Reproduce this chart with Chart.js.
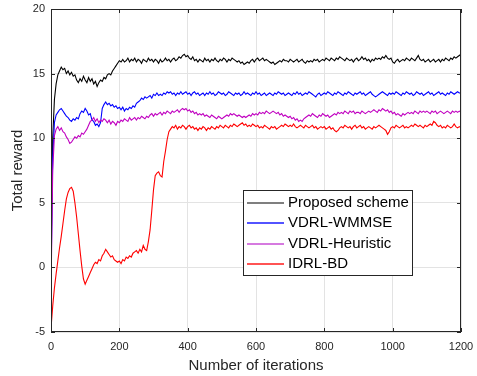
<!DOCTYPE html>
<html>
<head>
<meta charset="utf-8">
<script src="https://cdn.jsdelivr.net/npm/chart.js@4.4.0/dist/chart.umd.min.js"></script>
<style>
  html, body { margin: 0; padding: 0; background: #fff; }
  #wrap { width: 477px; height: 376px; }
</style>
</head>
<body>
<div id="wrap"><canvas id="rewardChart" width="477" height="376"></canvas></div>
<script>
// one value every 5 iterations, 0..1200 (10 values per row = 50 iterations)
const iterStep = 5;
const xTicks = [0, 200, 400, 600, 800, 1000, 1200];
const yTicks = [-5, 0, 5, 10, 15, 20];
const seriesNames = ['Proposed scheme', 'VDRL-WMMSE', 'VDRL-Heuristic', 'IDRL-BD'];
const seriesColors = ['#000000', '#0000ff', '#c000c0', '#ff0000'];
const legendColors = ['#555555', '#1a1aff', '#d67ae0', '#ff1a1a'];

const proposed = [
  0.5, 10.0, 13.0, 14.2, 14.9, 15.2, 15.5, 15.3, 15.4, 15.0,
  15.2, 14.9, 15.1, 14.8, 14.9, 14.5, 14.3, 14.6, 14.4, 14.8,
  14.5, 14.3, 14.7, 14.4, 14.6, 14.2, 14.4, 14.0, 14.3, 14.5,
  14.4, 14.7, 14.6, 14.9, 15.0, 14.9, 15.2, 15.4, 15.6, 15.8,
  16.0, 15.9, 16.1, 15.9, 16.0, 16.2, 15.9, 16.1, 16.0, 16.2,
  15.9, 16.1, 16.0, 15.8, 16.1, 16.0, 15.9, 16.2, 16.0, 16.1,
  15.9, 16.1, 16.0, 15.8, 16.1, 15.9, 16.0, 16.2, 16.0, 16.1,
  15.9, 16.1, 16.2, 16.0, 16.1, 16.3, 16.2, 16.4, 16.5, 16.3,
  16.4, 16.2, 16.1, 16.3, 16.0, 16.1, 15.9, 16.1, 16.0, 15.9,
  16.2, 16.0, 16.1, 15.9, 16.1, 16.0, 16.2, 16.0, 15.9, 16.1,
  16.0, 16.2, 16.1, 15.9, 16.1, 16.0, 16.2, 16.1, 16.0, 15.9,
  16.0, 15.8, 15.9, 15.7, 15.8, 15.9, 15.8, 16.0, 16.1, 15.9,
  16.1, 16.2, 16.0, 16.1, 16.2, 16.0, 16.1, 16.0, 15.9, 15.8,
  15.9, 15.7, 15.8, 15.9, 16.0, 15.9, 16.1, 16.0, 16.0, 15.9,
  16.1, 16.0, 15.9, 16.0, 16.1, 15.9, 16.0, 16.1, 15.9, 15.8,
  16.0, 15.9, 16.0, 15.9, 16.1, 16.0, 16.1, 15.9, 16.0, 16.1,
  16.0, 16.2, 16.1, 16.0, 16.2, 16.1, 16.0, 16.2, 16.1, 16.3,
  16.2, 16.1, 16.0, 16.2, 16.1, 16.0, 16.1, 15.9, 16.1, 16.2,
  16.0, 16.1, 16.3, 16.1, 16.2, 16.0, 16.1, 15.9, 16.1, 16.0,
  16.2, 16.1, 16.2, 16.1, 16.3, 16.2, 16.4, 16.2, 16.1, 16.2,
  15.9, 15.8, 16.0, 16.1, 15.9, 16.0, 16.1, 16.0, 16.2, 16.1,
  16.0, 16.2, 16.1, 16.0, 16.2, 16.4, 16.1, 16.0, 16.1, 15.9,
  16.0, 16.1, 15.9, 16.0, 16.1, 15.9, 16.0, 16.1, 15.9, 16.1,
  16.0, 16.2, 16.1, 16.0, 16.2, 16.1, 16.3, 16.2, 16.3, 16.4,
  16.5
];

const wmmse = [
  -1.0, 8.5, 11.2, 11.8, 12.0, 12.2, 12.3, 12.1, 11.9, 11.7,
  11.6, 11.4, 11.3, 11.5, 11.4, 11.6, 11.5, 11.9, 12.1, 12.0,
  12.3, 12.1, 11.8, 11.9, 11.4, 11.3, 11.0, 11.1, 10.9, 11.2,
  12.3, 12.6, 12.8, 12.6, 12.7, 12.5, 12.6, 12.4, 12.5, 12.3,
  12.4, 12.2, 12.4, 12.1, 12.3, 12.2, 12.4, 12.3, 12.5, 12.4,
  12.7, 12.8, 12.9, 13.1, 13.0, 13.2, 13.1, 13.2, 13.3, 13.1,
  13.4, 13.3, 13.5, 13.3, 13.4, 13.3, 13.5, 13.4, 13.6, 13.5,
  13.6, 13.4, 13.5, 13.3, 13.5, 13.4, 13.6, 13.4, 13.5, 13.6,
  13.4, 13.5, 13.3, 13.5, 13.6, 13.4, 13.5, 13.3, 13.4, 13.5,
  13.3, 13.5, 13.4, 13.6, 13.4, 13.5, 13.3, 13.4, 13.6, 13.5,
  13.4, 13.5, 13.3, 13.4, 13.6, 13.5, 13.4, 13.3, 13.5, 13.4,
  13.5, 13.3, 13.4, 13.6, 13.4, 13.5, 13.4, 13.3, 13.5, 13.4,
  13.6, 13.4, 13.5, 13.3, 13.4, 13.5, 13.3, 13.4, 13.5, 13.4,
  13.3, 13.5, 13.4, 13.6, 13.5, 13.4, 13.5, 13.3, 13.4, 13.5,
  13.4, 13.3, 13.5, 13.4, 13.6, 13.4, 13.5, 13.3, 13.4, 13.5,
  13.4, 13.6, 13.5, 13.4, 13.3, 13.2, 13.4, 13.5, 13.3, 13.4,
  13.5, 13.4, 13.6, 13.5, 13.4, 13.3, 13.5, 13.4, 13.6, 13.5,
  13.4, 13.3, 13.5, 13.4, 13.6, 13.5, 13.4, 13.3, 13.5, 13.4,
  13.5, 13.6, 13.4, 13.5, 13.3, 13.4, 13.5, 13.6, 13.4, 13.3,
  13.2, 13.3, 13.4, 13.5, 13.6, 13.5, 13.4, 13.3, 13.5, 13.4,
  13.5, 13.4, 13.6, 13.5, 13.4, 13.3, 13.5, 13.4, 13.6, 13.5,
  13.4, 13.5, 13.3, 13.4, 13.6, 13.5, 13.4, 13.5, 13.3, 13.4,
  13.5, 13.6, 13.4, 13.5, 13.3, 13.4, 13.5, 13.6, 13.4, 13.5,
  13.4, 13.3, 13.5, 13.4, 13.6, 13.5, 13.4, 13.5, 13.6, 13.5,
  13.5
];

const heuristic = [
  -2.0, 7.5, 10.2, 10.7, 10.9, 10.6, 10.8, 10.5, 10.4, 10.1,
  9.9, 9.6, 9.7, 9.9, 10.1, 10.0, 10.2, 10.1, 10.4, 10.3,
  10.5, 10.7, 11.0, 11.3, 11.4, 11.6, 11.3, 11.5, 11.2, 11.4,
  11.3, 11.5, 11.4, 11.2, 11.4, 11.1, 11.3, 11.2, 11.0, 11.3,
  11.2, 11.4, 11.3, 11.5, 11.4, 11.3, 11.6, 11.4, 11.5, 11.6,
  11.4, 11.6, 11.5, 11.7, 11.6, 11.5, 11.7, 11.6, 11.8, 11.9,
  11.7, 11.9, 11.8, 11.9, 12.0, 11.8, 12.0, 11.9, 12.1, 12.0,
  11.9, 12.1, 12.0, 12.1, 12.2, 12.0, 12.2, 12.3, 12.2, 12.3,
  12.1, 12.2, 12.0, 12.1, 11.9, 12.0, 11.8, 11.9, 11.8, 11.9,
  11.7, 11.8, 11.7, 11.6, 11.8, 11.7, 11.6, 11.5, 11.7, 11.6,
  11.5, 11.6, 11.7, 11.8, 11.7, 11.9, 11.8, 11.9, 11.8, 11.7,
  11.8, 11.7, 11.6, 11.7, 11.6, 11.7, 11.8, 11.7, 11.9, 11.8,
  11.9, 11.8, 12.0, 11.9, 12.0, 11.9, 12.1, 12.0, 11.9, 12.0,
  12.1, 12.0, 11.9, 12.0, 11.8, 11.9, 11.7, 11.8, 11.7, 11.6,
  11.7, 11.5, 11.6, 11.4, 11.5, 11.3, 11.4, 11.3, 11.5, 11.6,
  11.7, 11.8, 11.7, 11.9, 11.8, 11.7, 11.6, 11.8, 11.7, 11.9,
  11.8, 11.7, 11.8, 11.6, 11.7, 11.8, 11.9, 11.8, 12.0, 11.9,
  12.0, 11.9, 12.1, 12.0, 11.9, 12.1, 12.0, 12.1, 11.9, 12.0,
  12.0, 11.9, 12.1, 12.0, 11.9, 12.0, 12.1, 12.0, 12.1, 12.2,
  12.1, 12.0, 12.2, 12.1, 12.3, 12.2, 12.1, 12.2, 12.0, 12.1,
  11.9, 12.0, 11.8, 11.9, 11.8, 11.7, 11.9, 11.8, 11.9, 12.0,
  11.9, 12.0, 11.9, 12.1, 12.0, 11.9, 12.1, 12.0, 12.1, 12.0,
  12.1, 12.0, 11.9, 12.1, 12.0, 12.1, 11.9, 12.0, 12.1, 12.0,
  11.9, 12.0, 12.1, 12.0, 11.9, 12.1, 12.0, 12.1, 12.0, 12.1,
  12.0
];

const idrlBd = [
  -4.7, -3.0, -1.6, -0.5, 0.5, 1.5, 2.4, 3.4, 4.4, 5.3,
  5.8, 6.1, 6.2, 5.9, 5.0, 3.9, 2.6, 1.3, 0.1, -0.9,
  -1.3, -1.0, -0.7, -0.4, -0.1, 0.2, 0.4, 0.3, 0.6, 0.5,
  0.9, 1.1, 1.4, 1.2, 1.0, 0.8, 0.9, 0.6, 0.5, 0.4,
  0.5, 0.3, 0.6, 0.5, 0.8, 0.7, 0.9, 0.8, 1.1, 1.2,
  1.3, 1.1, 1.4, 1.2, 1.7, 1.4, 1.3, 2.0, 2.9, 4.4,
  6.0, 7.1, 7.3, 7.4, 7.1, 7.0, 8.2, 9.0, 9.9, 10.5,
  10.7, 10.9, 10.8, 11.0, 10.7, 10.9, 10.8, 11.0, 10.9, 10.7,
  10.9, 11.0, 10.8, 10.9, 10.7, 10.8, 10.6, 10.8, 10.7, 10.9,
  10.8, 10.6, 10.8, 10.7, 10.9, 10.8, 10.7, 10.9, 10.8, 11.0,
  10.9, 10.8, 11.0, 10.9, 10.8, 11.0, 10.9, 11.1, 11.0, 10.9,
  11.0, 11.1, 11.2, 11.0, 11.1, 10.9, 11.0, 10.9, 11.1, 11.0,
  10.9, 11.0, 10.8, 10.9, 10.8, 11.0, 10.9, 10.8, 10.7, 10.9,
  10.8, 10.9, 10.7, 10.8, 10.9, 11.0, 10.9, 11.1, 11.0, 10.9,
  11.0, 10.9, 11.1, 10.9, 10.8, 10.9, 11.0, 10.9, 10.8, 11.0,
  10.9, 10.8, 10.9, 11.0, 10.8, 10.9, 10.7, 10.8, 10.9, 10.8,
  10.9, 10.7, 10.8, 10.9, 10.7, 10.8, 10.6, 10.5, 10.6, 10.8,
  10.9, 10.8, 11.0, 10.9, 10.8, 10.9, 10.7, 10.9, 11.0, 10.8,
  10.9, 11.0, 10.8, 10.9, 10.7, 10.8, 10.9, 10.8, 10.7, 10.9,
  10.8, 10.9, 11.0, 10.9, 10.8, 10.7, 10.6, 10.3, 10.5, 10.8,
  10.9, 10.8, 11.0, 10.9, 10.8, 10.9, 11.0, 10.8, 10.9, 10.8,
  10.9, 11.0, 10.9, 11.1, 11.0, 10.9, 11.0, 10.9, 10.8, 11.0,
  10.9, 11.0, 11.1, 11.0, 11.3, 11.2, 11.0, 10.9, 11.0, 10.8,
  10.9, 10.8, 11.0, 10.9, 10.8, 10.9, 11.1, 10.9, 10.8, 10.9,
  10.8
];

const allSeries = [proposed, wmmse, heuristic, idrlBd];
const axisColor = '#262626';
const fontFamily = '"Liberation Sans", Arial, Helvetica, sans-serif';

// matlab-like box with inward ticks on all four sides
const boxPlugin = {
  id: 'box',
  afterDatasetsDraw(chart) {
    const { ctx, chartArea: a, scales: { x, y } } = chart;
    ctx.save();
    ctx.strokeStyle = axisColor;
    ctx.lineWidth = 1;
    ctx.beginPath();
    xTicks.forEach(v => {
      const px = Math.round(x.getPixelForValue(v)) + 0.5;
      ctx.moveTo(px, a.bottom); ctx.lineTo(px, a.bottom - 4);
      ctx.moveTo(px, a.top); ctx.lineTo(px, a.top + 4);
    });
    yTicks.forEach(v => {
      const py = Math.round(y.getPixelForValue(v)) + 0.5;
      ctx.moveTo(a.left, py); ctx.lineTo(a.left + 4, py);
      ctx.moveTo(a.right, py); ctx.lineTo(a.right - 4, py);
    });
    ctx.stroke();
    ctx.strokeRect(Math.round(a.left) + 0.5, Math.round(a.top) + 0.5,
      Math.round(a.right - a.left) - 1, Math.round(a.bottom - a.top) - 1);
    ctx.restore();
  }
};

const legendPlugin = {
  id: 'boxLegend',
  afterDraw(chart) {
    const { ctx } = chart;
    const left = 243, top = 190, w = 169, h = 85;
    ctx.save();
    ctx.fillStyle = '#ffffff';
    ctx.fillRect(left, top, w, h);
    ctx.strokeStyle = axisColor;
    ctx.lineWidth = 1;
    ctx.strokeRect(left + 0.5, top + 0.5, w, h);
    ctx.font = '15px ' + fontFamily;
    ctx.textBaseline = 'middle';
    seriesNames.forEach((name, i) => {
      const yy = Math.round(top + 13 + i * 20.3);
      ctx.strokeStyle = legendColors[i];
      ctx.lineWidth = i === 2 ? 2 : 1.5;
      ctx.beginPath();
      ctx.moveTo(left + 4, yy);
      ctx.lineTo(left + 41, yy);
      ctx.stroke();
      ctx.fillStyle = '#000000';
      ctx.fillText(name, left + 45, yy);
    });
    ctx.restore();
  }
};

const chartCtx = document.getElementById('rewardChart').getContext('2d');
new Chart(chartCtx, {
  type: 'line',
  data: {
    datasets: allSeries.map((vals, i) => ({
      label: seriesNames[i],
      data: vals.map((v, k) => ({ x: k * iterStep, y: v })),
      borderColor: seriesColors[i],
      borderWidth: 1.1,
      pointRadius: 0,
      tension: 0,
      fill: false,
      order: allSeries.length - i
    }))
  },
  options: {
    responsive: false,
    animation: false,
    devicePixelRatio: 1,
    layout: { padding: { top: 9, right: 16, left: 0, bottom: 0 } },
    plugins: {
      legend: { display: false },
      tooltip: { enabled: false }
    },
    scales: {
      x: {
        type: 'linear',
        min: 0,
        max: 1200,
        afterBuildTicks: s => { s.ticks = xTicks.map(v => ({ value: v })); },
        afterFit: s => { s.height = 44; s.paddingRight = 0; s.paddingLeft = 0; },
        grid: { color: '#e3e3e3', drawTicks: false },
        border: { display: false },
        ticks: {
          color: axisColor, padding: 8, maxRotation: 0,
          font: { family: fontFamily, size: 11 },
          callback: v => String(v)
        },
        title: {
          display: true,
          text: 'Number of iterations',
          color: axisColor,
          padding: { top: 0, bottom: 1 },
          font: { family: fontFamily, size: 15 }
        }
      },
      y: {
        min: -5,
        max: 20,
        afterBuildTicks: s => { s.ticks = yTicks.map(v => ({ value: v })); },
        afterFit: s => { s.width = 51; s.paddingTop = 0; s.paddingBottom = 0; },
        grid: { color: '#e3e3e3', drawTicks: false },
        border: { display: false },
        ticks: {
          color: axisColor, padding: 6,
          font: { family: fontFamily, size: 11 },
          callback: v => String(v)
        },
        title: {
          display: true,
          text: 'Total reward',
          color: axisColor,
          padding: { top: 9, bottom: 0 },
          font: { family: fontFamily, size: 15 }
        }
      }
    }
  },
  plugins: [boxPlugin, legendPlugin]
});
</script>
</body>
</html>
